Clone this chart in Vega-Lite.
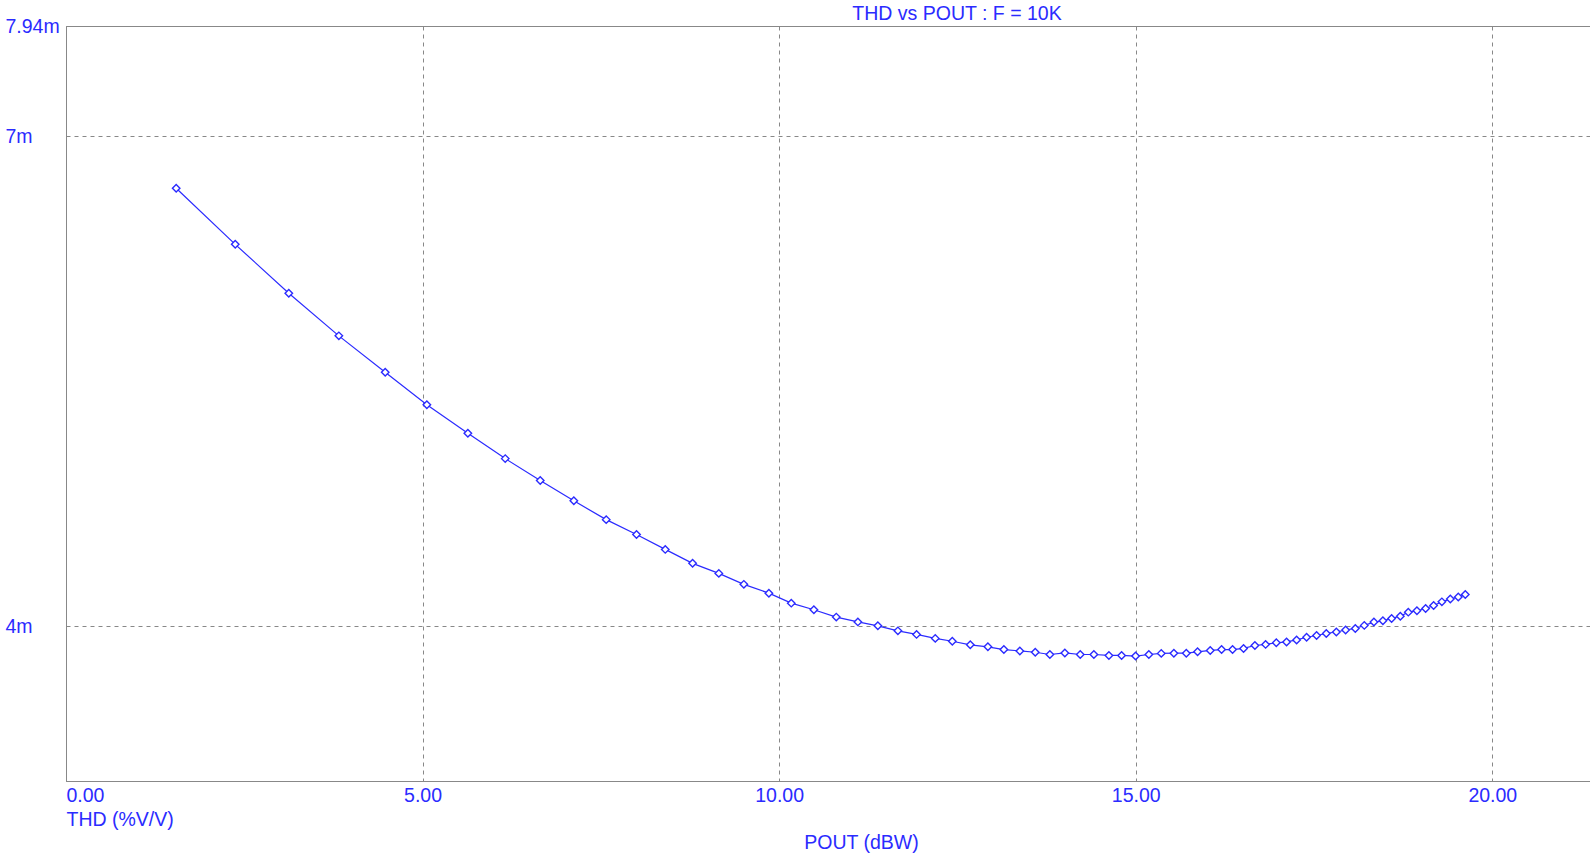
{
  "$schema": "https://vega.github.io/schema/vega-lite/v6.json",
  "autosize": "none",
  "padding": {"left": 66, "top": 26, "right": 0, "bottom": 80},
  "width": 1524,
  "height": 755,
  "background": "white",
  "config": {
    "view": {"stroke": "#888888", "strokeWidth": 1},
    "font": "Liberation Sans"
  },
  "title": {
    "text": "THD vs POUT : F = 10K",
    "frame": "group",
    "anchor": "middle",
    "dx": 129,
    "dy": 29,
    "offset": 6,
    "baseline": "alphabetic",
    "font": "Liberation Sans",
    "fontSize": 19.5,
    "fontWeight": "normal",
    "color": "#2b2bff"
  },
  "data": {
    "values": [
      {"pout": 1.545, "thd": 0.006597},
      {"pout": 2.373, "thd": 0.006188},
      {"pout": 3.124, "thd": 0.005852},
      {"pout": 3.826, "thd": 0.005574},
      {"pout": 4.476, "thd": 0.005347},
      {"pout": 5.060, "thd": 0.005153},
      {"pout": 5.635, "thd": 0.004987},
      {"pout": 6.159, "thd": 0.004845},
      {"pout": 6.650, "thd": 0.004725},
      {"pout": 7.121, "thd": 0.004617},
      {"pout": 7.575, "thd": 0.004519},
      {"pout": 8.000, "thd": 0.004443},
      {"pout": 8.403, "thd": 0.004368},
      {"pout": 8.786, "thd": 0.004299},
      {"pout": 9.154, "thd": 0.004250},
      {"pout": 9.505, "thd": 0.004197},
      {"pout": 9.856, "thd": 0.004155},
      {"pout": 10.170, "thd": 0.004108},
      {"pout": 10.487, "thd": 0.004077},
      {"pout": 10.801, "thd": 0.004043},
      {"pout": 11.104, "thd": 0.004021},
      {"pout": 11.384, "thd": 0.004003},
      {"pout": 11.665, "thd": 0.003980},
      {"pout": 11.927, "thd": 0.003964},
      {"pout": 12.189, "thd": 0.003946},
      {"pout": 12.428, "thd": 0.003933},
      {"pout": 12.680, "thd": 0.003917},
      {"pout": 12.927, "thd": 0.003908},
      {"pout": 13.151, "thd": 0.003896},
      {"pout": 13.375, "thd": 0.003890},
      {"pout": 13.591, "thd": 0.003884},
      {"pout": 13.796, "thd": 0.003874},
      {"pout": 14.006, "thd": 0.003881},
      {"pout": 14.222, "thd": 0.003874},
      {"pout": 14.413, "thd": 0.003874},
      {"pout": 14.624, "thd": 0.003870},
      {"pout": 14.802, "thd": 0.003870},
      {"pout": 14.998, "thd": 0.003867},
      {"pout": 15.184, "thd": 0.003874},
      {"pout": 15.358, "thd": 0.003879},
      {"pout": 15.535, "thd": 0.003880},
      {"pout": 15.709, "thd": 0.003880},
      {"pout": 15.867, "thd": 0.003886},
      {"pout": 16.045, "thd": 0.003892},
      {"pout": 16.204, "thd": 0.003896},
      {"pout": 16.358, "thd": 0.003896},
      {"pout": 16.512, "thd": 0.003901},
      {"pout": 16.671, "thd": 0.003914},
      {"pout": 16.821, "thd": 0.003919},
      {"pout": 16.971, "thd": 0.003926},
      {"pout": 17.115, "thd": 0.003930},
      {"pout": 17.256, "thd": 0.003939},
      {"pout": 17.396, "thd": 0.003951},
      {"pout": 17.536, "thd": 0.003959},
      {"pout": 17.672, "thd": 0.003968},
      {"pout": 17.813, "thd": 0.003975},
      {"pout": 17.943, "thd": 0.003984},
      {"pout": 18.079, "thd": 0.003991},
      {"pout": 18.205, "thd": 0.004005},
      {"pout": 18.340, "thd": 0.004020},
      {"pout": 18.466, "thd": 0.004026},
      {"pout": 18.588, "thd": 0.004037},
      {"pout": 18.710, "thd": 0.004047},
      {"pout": 18.822, "thd": 0.004066},
      {"pout": 18.943, "thd": 0.004072},
      {"pout": 19.065, "thd": 0.004083},
      {"pout": 19.177, "thd": 0.004097},
      {"pout": 19.293, "thd": 0.004114},
      {"pout": 19.411, "thd": 0.004127},
      {"pout": 19.523, "thd": 0.004137},
      {"pout": 19.621, "thd": 0.004149}
    ]
  },
  "encoding": {
    "x": {
      "field": "pout",
      "type": "quantitative",
      "scale": {"domain": [0, 21.37], "nice": false, "zero": false},
      "axis": {
        "values": [0, 5, 10, 15, 20],
        "format": ".2f",
        "grid": true,
        "gridColor": "#888888",
        "gridDash": [4, 4],
        "gridWidth": 1,
        "gridOpacity": 1,
        "domainColor": "#888888",
        "domainWidth": 1,
        "ticks": false,
        "tickSize": 0,
        "labelPadding": 5,
        "labelFlush": true,
        "labelOverlap": false,
        "labelBound": false,
        "labelFont": "Liberation Sans",
        "labelFontSize": 19.5,
        "labelColor": "#2b2bff",
        "title": "POUT (dBW)",
        "titleFont": "Liberation Sans",
        "titleFontSize": 19.5,
        "titleFontWeight": "normal",
        "titleColor": "#2b2bff",
        "titleX": 795,
        "titleY": 67,
        "titleAlign": "center",
        "titleBaseline": "alphabetic"
      }
    },
    "y": {
      "field": "thd",
      "type": "quantitative",
      "scale": {"type": "log", "domain": [0.003353, 0.00794], "nice": false, "zero": false},
      "axis": {
        "values": [0.004, 0.007, 0.00794],
        "format": "~s",
        "grid": true,
        "gridColor": "#888888",
        "gridDash": [4, 4],
        "gridWidth": 1,
        "gridOpacity": 1,
        "domainColor": "#888888",
        "domainWidth": 1,
        "ticks": false,
        "tickSize": 0,
        "labelPadding": 61,
        "labelAlign": "left",
        "labelBaseline": "middle",
        "labelFlush": false,
        "labelOverlap": false,
        "labelBound": false,
        "labelFont": "Liberation Sans",
        "labelFontSize": 19.5,
        "labelColor": "#2b2bff",
        "title": "THD (%V/V)",
        "titleFont": "Liberation Sans",
        "titleFontSize": 19.5,
        "titleFontWeight": "normal",
        "titleColor": "#2b2bff",
        "titleAngle": 0,
        "titleX": 0,
        "titleY": 799,
        "titleAlign": "left",
        "titleBaseline": "alphabetic"
      }
    }
  },
  "layer": [
    {
      "mark": {"type": "line", "color": "#2b2bff", "strokeWidth": 1.2}
    },
    {
      "mark": {"type": "point", "shape": "diamond", "size": 56, "filled": false, "fill": "white", "fillOpacity": 1, "stroke": "#2b2bff", "strokeWidth": 1.4, "opacity": 1}
    }
  ]
}
